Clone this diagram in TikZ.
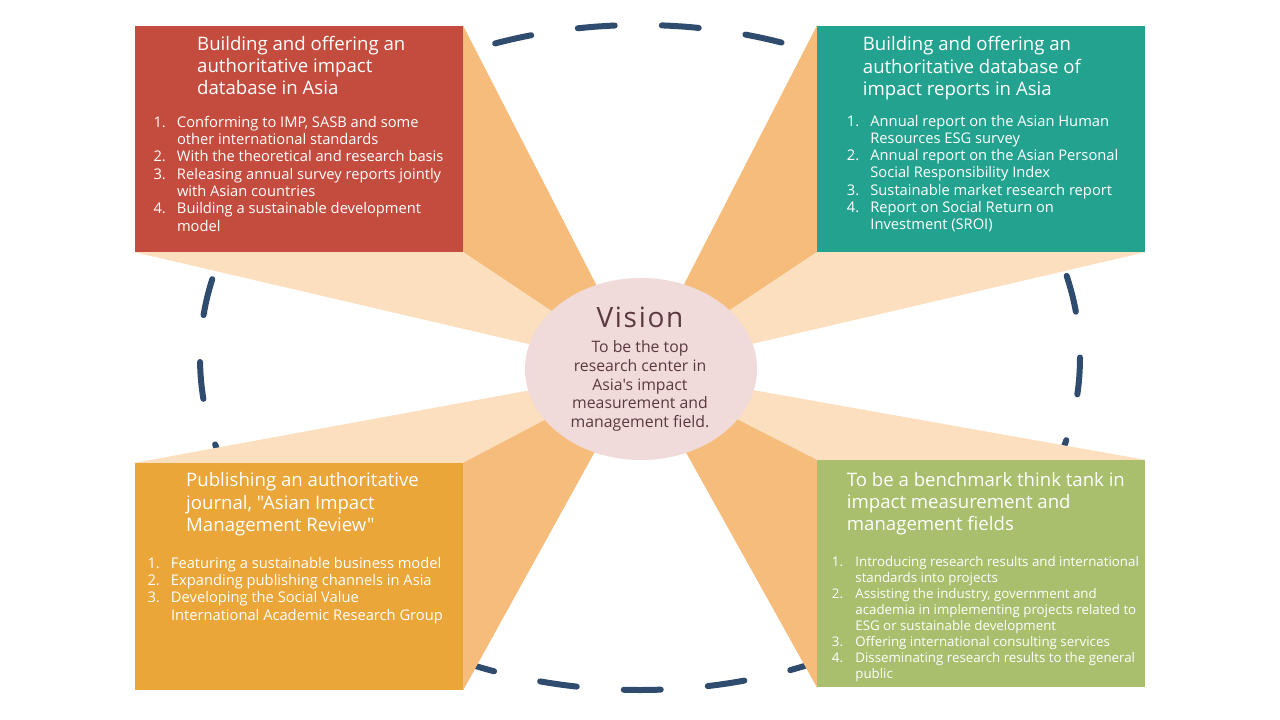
\documentclass[tikz,border=0pt]{standalone}
\usepackage{fontspec}
\setmainfont{Open Sans}[Ligatures=TeXOff]
\usetikzlibrary{shapes.geometric}
\definecolor{boxRed}{HTML}{C44C3E}
\definecolor{boxTeal}{HTML}{23A38F}
\definecolor{boxOrange}{HTML}{EBA63A}
\definecolor{boxGreen}{HTML}{A9BF6E}
\definecolor{beamDark}{HTML}{F6BC7B}
\definecolor{beamLight}{HTML}{FBDFBE}
\definecolor{visFill}{HTML}{F0DADA}
\definecolor{visText}{HTML}{5A3A40}
\definecolor{dashNavy}{HTML}{2F4B6E}
\newcommand\liNum[1]{\makebox[23.5pt][l]{#1}}
\newcommand\liCont{\hspace*{23.5pt}}
\begin{document}
\begin{tikzpicture}[x=1pt,y=-1pt,
  panel/.style={draw=none, inner sep=0pt, minimum width=328pt},
  ttl/.style={anchor=base west, inner sep=0pt, align=left, text=white, font=\fontsize{18.6}{22.3}\selectfont},
  lst/.style={anchor=base west, inner sep=0pt, align=left, text=white, font=\fontsize{14.7}{17.3}\selectfont},
  lstsmall/.style={anchor=base west, inner sep=0pt, align=left, text=white, font=\fontsize{13.3}{16}\selectfont}]
\useasboundingbox[fill=white] (0,0) rectangle (1280,720);

% dashed ring
\draw[dashNavy, line width=6pt, line cap=round, dash pattern=on 37pt off 47.14pt]
  (640,357.5) ellipse [x radius=440, y radius=332.5];

% panels (named)
\node[panel, fill=boxRed, minimum height=226pt] (red) at (299,139) {};
\node[panel, fill=boxTeal, minimum height=226pt] (teal) at (981,139) {};
\node[panel, fill=boxOrange, minimum height=227pt] (orange) at (299,576.5) {};
\node[panel, fill=boxGreen, minimum height=227pt] (green) at (981,573.5) {};
\coordinate (hub) at (640,370);

% beams
\fill[beamDark] (red.north east) -- (red.south east) -- (hub) -- cycle;
\fill[beamLight] (red.south west) -- (red.south east) -- (hub) -- cycle;
\fill[beamDark] (teal.north west) -- (teal.south west) -- (hub) -- cycle;
\fill[beamLight] (teal.south west) -- (teal.south east) -- (hub) -- cycle;
\fill[beamLight] (orange.north west) -- (orange.north east) -- (hub) -- cycle;
\fill[beamDark] (orange.north east) -- (orange.south east) -- (hub) -- cycle;
\fill[beamLight] (green.north west) -- (green.north east) -- (hub) -- cycle;
\fill[beamDark] (green.north west) -- (green.south west) -- (hub) -- cycle;

% redraw panels on top
\fill[boxRed] (red.north west) rectangle (red.south east);
\fill[boxTeal] (teal.north west) rectangle (teal.south east);
\fill[boxOrange] (orange.north west) rectangle (orange.south east);
\fill[boxGreen] (green.north west) rectangle (green.south east);

% vision ellipse
\node[ellipse, fill=visFill, minimum width=232pt, minimum height=182pt, inner sep=0pt] (vis) at (641,369) {};
\node[anchor=base, inner sep=0pt, text=visText, font=\fontsize{28}{30}\selectfont\addfontfeature{LetterSpace=6}] (visT) at (640,327) {Vision};
\node[anchor=base, inner sep=0pt, align=center, text=visText, font=\fontsize{15.8}{18.7}\selectfont] (visB) at (640,427.5)
  {To be the top\\research center in\\Asia's impact\\measurement and\\management field.};

% red texts
\node[ttl] (redT) at (197,94.6) {Building and offering an\\authoritative impact\\database in Asia};
\node[lst] (redL) at (153.3,231.1) {\liNum{1.}Conforming to IMP, SASB and some\\\liCont other international standards\\\liNum{2.}With the theoretical and research basis\\\liNum{3.}Releasing annual survey reports jointly\\\liCont with Asian countries\\\liNum{4.}Building a sustainable development\\\liCont model};

% teal texts
\node[ttl] (tealT) at (862.7,95.3) {Building and offering an\\authoritative database of\\impact reports in Asia};
\node[lst] (tealL) at (846.7,229.8) {\liNum{1.}Annual report on the Asian Human\\\liCont Resources ESG survey\\\liNum{2.}Annual report on the Asian Personal\\\liCont Social Responsibility Index\\\liNum{3.}Sustainable market research report\\\liNum{4.}Report on Social Return on\\\liCont Investment (SROI)};

% orange texts
\node[ttl] (orangeT) at (186,531.3) {Publishing an authoritative\\journal, "Asian Impact\\Management Review"};
\node[lst] (orangeL) at (147.3,620) {\liNum{1.}Featuring a sustainable business model\\\liNum{2.}Expanding publishing channels in Asia\\\liNum{3.}Developing the Social Value\\\liCont International Academic Research Group};

% green texts
\node[ttl] (greenT) at (846.7,530.6) {To be a benchmark think tank in\\impact measurement and\\management fields};
\node[lstsmall] (greenL) at (831.7,678) {\liNum{1.}Introducing research results and international\\\liCont standards into projects\\\liNum{2.}Assisting the industry, government and\\\liCont academia in implementing projects related to\\\liCont ESG or sustainable development\\\liNum{3.}Offering international consulting services\\\liNum{4.}Disseminating research results to the general\\\liCont public};
\end{tikzpicture}
\end{document}
